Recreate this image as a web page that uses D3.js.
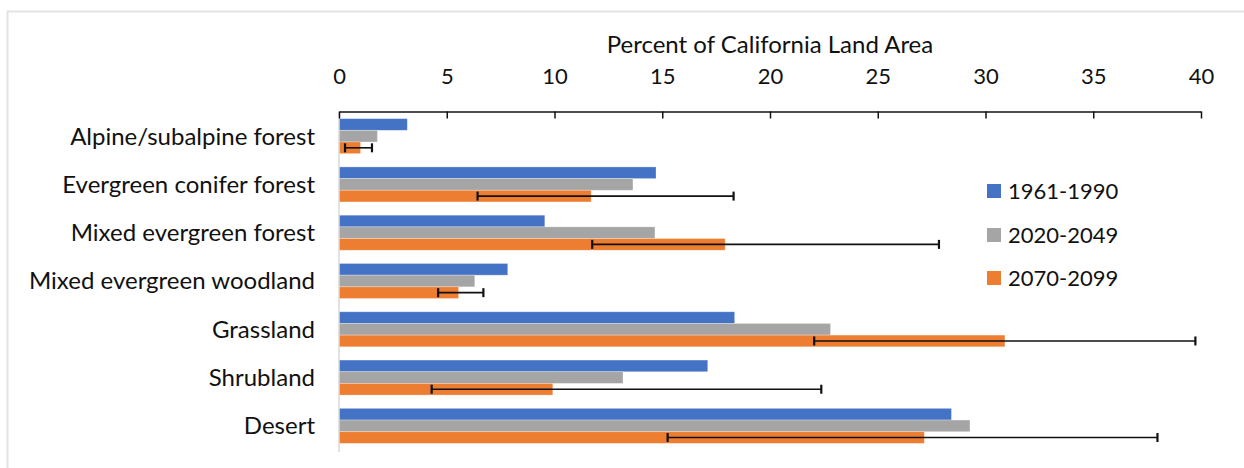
<!DOCTYPE html>
<html>
<head>
<meta charset="utf-8">
<script src="https://cdn.jsdelivr.net/npm/d3@7"></script>
<style>
  html, body { margin: 0; padding: 0; background: #fff; }
  svg { display: block; }
  text { font-family: Lato, "Open Sans", sans-serif; fill: #111; }
</style>
</head>
<body>
<svg id="chart" width="1244" height="468"></svg>
<script>
const categories = ["Alpine/subalpine forest", "Evergreen conifer forest", "Mixed evergreen forest",
  "Mixed evergreen woodland", "Grassland", "Shrubland", "Desert"];
const seriesNames = ["1961-1990", "2020-2049", "2070-2099"];
const values1961 = [3.17, 14.71, 9.55, 7.83, 18.36, 17.11, 28.42];
const values2020 = [1.78, 13.64, 14.66, 6.3, 22.81, 13.18, 29.28];
const values2070 = [1.0, 11.7, 17.92, 5.55, 30.9, 9.92, 27.16];
const errLow2070 = [0.28, 6.43, 11.75, 4.6, 22.05, 4.3, 15.25];
const errHigh2070 = [1.53, 18.31, 27.84, 6.7, 39.74, 22.38, 37.98];
const xTicks = [0, 5, 10, 15, 20, 25, 30, 35, 40];
const axisTitle = "Percent of California Land Area";
const colors = ["#4472C4", "#A5A5A5", "#ED7D31"];

const svg = d3.select("#chart");

// outer frame
svg.append("rect").attr("x", 7.5).attr("y", 11.5).attr("width", 1260).attr("height", 480)
  .attr("fill", "none").attr("stroke", "#e3e3e3").attr("stroke-width", 2);

const x = d3.scaleLinear().domain([0, 40]).range([339, 1201]);
const y = d3.scaleBand().domain(categories).range([112, 450]).paddingInner(0.275).paddingOuter(0.1375);
const sub = d3.scaleBand().domain(seriesNames).range([0, y.bandwidth()]);

const seriesData = [values1961, values2020, values2070];

// bars
seriesNames.forEach((s, si) => {
  svg.append("g").selectAll("rect").data(categories).join("rect")
    .attr("x", x(0))
    .attr("y", (c) => y(c) + sub(s))
    .attr("width", (c, i) => x(seriesData[si][i]) - x(0))
    .attr("height", sub.bandwidth())
    .attr("fill", colors[si])
    .attr("stroke", "rgba(255,255,255,0.35)")
    .attr("stroke-width", 0.8);
});

// error bars on 2070-2099
const eg = svg.append("g").attr("stroke", "#111").attr("stroke-width", 1.6);
categories.forEach((c, i) => {
  const cy = y(c) + sub("2070-2099") + sub.bandwidth() / 2;
  eg.append("line").attr("x1", x(errLow2070[i])).attr("x2", x(errHigh2070[i])).attr("y1", cy).attr("y2", cy);
  [errLow2070[i], errHigh2070[i]].forEach(v => {
    eg.append("line").attr("x1", x(v)).attr("x2", x(v)).attr("y1", cy - 4.5).attr("y2", cy + 4.5).attr("stroke-width", 2.2);
  });
});

// left axis line
svg.append("line").attr("x1", x(0)).attr("x2", x(0)).attr("y1", 112).attr("y2", 452)
  .attr("stroke", "#d9d9d9").attr("stroke-width", 1.5);

// top axis
const xAxis = d3.axisTop(x).tickValues(xTicks).tickSize(0).tickPadding(0);
const ax = svg.append("g").attr("transform", "translate(0,111.5)").call(xAxis);
ax.select(".domain").attr("stroke", "#111").attr("stroke-width", 1.5);
ax.selectAll(".tick line").remove();
ax.selectAll(".tick").append("line").attr("y1", 0).attr("y2", 7).attr("stroke", "#111").attr("stroke-width", 1.5);
ax.selectAll(".tick text").attr("y", -35).attr("dy", "0.35em")
  .style("font-family", "Lato, sans-serif").style("font-size", "22px").attr("fill", "#111");

// axis title
svg.append("text").attr("x", (x(0) + x(40)) / 2).attr("y", 45).attr("dy", "0.35em")
  .attr("text-anchor", "middle").style("font-size", "24px").text(axisTitle);

// category labels
svg.append("g").selectAll("text").data(categories).join("text")
  .attr("x", 315).attr("y", c => y(c) + y.bandwidth() / 2).attr("dy", "0.35em")
  .attr("text-anchor", "end").style("font-size", "24px").text(c => c);

// legend
const legendY = [191, 235, 278];
const lg = svg.append("g");
seriesNames.forEach((s, i) => {
  lg.append("rect").attr("x", 987).attr("y", legendY[i] - 7).attr("width", 14).attr("height", 14).attr("fill", colors[i]);
  lg.append("text").attr("x", 1008).attr("y", legendY[i]).attr("dy", "0.35em").style("font-size", "22px").text(s);
});
</script>
</body>
</html>
